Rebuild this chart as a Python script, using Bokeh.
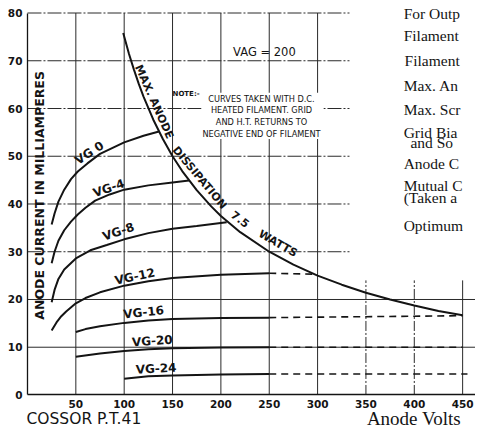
import math
from bokeh.plotting import figure
from bokeh.models import Range1d, FixedTicker
from bokeh.embed import file_html
from bokeh.resources import INLINE
from bokeh.core.properties import value

# ---------------- data ----------------
x_ticks = [50, 100, 150, 200, 250, 300, 350, 400, 450]
y_ticks = [0, 10, 20, 30, 40, 50, 60, 70, 80]

# max anode dissipation 7.5 W boundary
diss_v = [99, 105, 110, 115, 120, 130, 140, 150, 160, 175, 190, 200, 220, 250,
          275, 300, 325, 350, 375, 400, 425, 450]
diss_i = [75.8, 71.4, 68.2, 65.2, 62.5, 57.7, 53.6, 50.0, 46.9, 42.9, 39.5, 37.5,
          34.1, 30.0, 27.3, 25.0, 23.1, 21.4, 20.0, 18.75, 17.6, 16.7]

vg0_v = [25, 28, 32, 38, 45, 52, 62, 75, 100, 120, 136]
vg0_i = [35.7, 38.0, 40.5, 43.0, 45.2, 46.8, 48.5, 50.5, 52.9, 54.3, 55.2]

vg4_v = [25, 28, 32, 38, 45, 52, 60, 70, 85, 100, 125, 150, 167]
vg4_i = [27.6, 30.0, 32.3, 34.5, 36.3, 37.8, 39.2, 40.7, 42.0, 43.0, 43.9, 44.5, 44.9]

vg8_v = [25, 28, 32, 38, 50, 65, 82, 100, 125, 150, 175, 206]
vg8_i = [19.4, 22.0, 24.3, 26.3, 28.6, 30.3, 31.4, 32.6, 33.9, 34.8, 35.4, 36.2]

vg12_v = [25, 30, 35, 40, 50, 60, 75, 100, 125, 150, 200, 250]
vg12_i = [13.5, 15.2, 16.5, 17.5, 19.2, 20.3, 21.5, 22.9, 23.8, 24.5, 25.2, 25.5]

vg16_v = [50, 60, 75, 100, 125, 150, 200, 250]
vg16_i = [13.2, 13.8, 14.4, 15.1, 15.6, 15.9, 16.1, 16.2]

vg20_v = [50, 75, 100, 125, 150, 200, 250]
vg20_i = [8.0, 8.7, 9.2, 9.6, 9.8, 9.95, 10.0]

vg24_v = [100, 125, 150, 200, 250]
vg24_i = [3.4, 3.9, 4.1, 4.3, 4.4]

# dashed extensions
ext_v = [[250, 296], [250, 450], [250, 450], [250, 455]]
ext_i = [[25.5, 25.3], [16.2, 16.6], [10.0, 10.0], [4.4, 4.4]]

curve_labels = ["VG 0", "VG-4", "VG-8", "VG-12", "VG-16", "VG-20", "VG-24"]
label_v = [64, 84, 94, 111, 120, 129, 133]
label_i = [50.7, 43.3, 34.2, 24.8, 17.3, 11.3, 5.5]
label_deg = [33, 19, 19, 12, 6, 4, 3]

diss_text = ["MAX. ANODE", "DISSIPATION", "7.5", "WATTS"]
diss_text_v = [131, 178, 220, 259]
diss_text_i = [61.4, 45.5, 36.8, 31.7]
diss_text_deg = [-66, -50, -37, -30]

note_lines = ["CURVES TAKEN WITH D.C.", "HEATED FILAMENT. GRID",
              "AND H.T. RETURNS TO", "NEGATIVE END OF FILAMENT"]
note_i = [62.0, 59.6, 57.2, 54.7]

side_lines = ["For Outp", "Filament", "Filament", "Max. An", "Max. Scr",
              "Grid Bia", "and So", "Anode C", "Mutual C", "(Taken a", "Optimum"]
side_i = [79.8, 75.2, 70.1, 64.8, 59.8, 55.0, 52.8, 48.5, 43.8, 41.4, 35.4]
side_indent = [0, 0, 1, 0, 0, 0, 7, 0, 0, 0, 0]

# ---------------- figure ----------------
W, H = 475, 429
p = figure(width=W, height=H, output_backend="svg", toolbar_location=None,
           x_range=Range1d(-27.9, 463.3), y_range=Range1d(-7.23, 82.62),
           min_border_left=0, min_border_right=0, min_border_top=0,
           min_border_bottom=0)
p.outline_line_color = None
p.background_fill_color = "white"
p.border_fill_color = "white"
p.xgrid.visible = False
p.ygrid.visible = False

ink = "#141414"
grid_c = "#2a2a2a"

for ax in (p.xaxis[0], p.yaxis[0]):
    ax.axis_line_color = ink
    ax.axis_line_width = 1.3
    ax.major_tick_line_color = None
    ax.minor_tick_line_color = None
    ax.major_tick_out = 0
    ax.major_tick_in = 0
    ax.minor_tick_out = 0
    ax.major_label_text_font = "DejaVu Sans"
    ax.major_label_text_font_style = "bold"
    ax.major_label_text_font_size = "10.5px"
    ax.major_label_text_color = ink
    ax.major_label_standoff = 5
    ax.fixed_location = 0

p.xaxis.ticker = FixedTicker(ticks=x_ticks)
p.yaxis.ticker = FixedTicker(ticks=y_ticks)
p.xaxis.bounds = (0, 463)
p.yaxis.bounds = (0, 80)

# ---------------- grid ----------------
for v in x_ticks:
    top = 80 if v <= 300 else 24
    p.line([v, v], [0, top], line_color=grid_c, line_width=1,
           line_dash="solid" if v in (50, 100, 150, 200, 250, 300, 450) else "10 2 2 2")
for yv in y_ticks[1:]:
    right = 470 if yv <= 20 else 333
    p.line([0, right], [yv, yv], line_color=grid_c, line_width=1,
           line_dash="solid" if yv <= 20 else "14 2 2 2")

# white box behind the note
p.quad(left=[180], right=[306], bottom=[53.6], top=[63.3],
       fill_color="white", line_color=None)

# ---------------- curves ----------------
p.line(diss_v, diss_i, line_color=ink, line_width=2.0)
for xs, ys in [(vg0_v, vg0_i), (vg4_v, vg4_i), (vg8_v, vg8_i), (vg12_v, vg12_i),
               (vg16_v, vg16_i), (vg20_v, vg20_i), (vg24_v, vg24_i)]:
    p.line(xs, ys, line_color=ink, line_width=2.0)
p.multi_line(ext_v, ext_i, line_color=ink, line_width=1.6, line_dash="7 5")

# ---------------- texts ----------------
p.text(x=label_v, y=label_i, text=curve_labels,
       angle=[math.radians(a) for a in label_deg],
       text_font=value("DejaVu Sans"), text_font_style="bold",
       text_font_size="12px", text_align="center", text_baseline="middle",
       text_color=ink)

p.text(x=diss_text_v, y=diss_text_i, text=diss_text,
       angle=[math.radians(a) for a in diss_text_deg],
       text_font=value("DejaVu Sans"), text_font_style="bold",
       text_font_size="11px", text_align="center", text_baseline="middle",
       text_color=ink)

p.text(x=[12], y=[41.8], text=["ANODE CURRENT IN MILLIAMPERES"], angle=[math.pi / 2],
       text_font=value("DejaVu Sans"), text_font_style="bold",
       text_font_size="12.5px", text_align="center", text_baseline="middle",
       text_color=ink)

p.text(x=[245], y=[71.9], text=["VAG = 200"],
       text_font=value("DejaVu Sans"), text_font_size="11.5px",
       text_align="center", text_baseline="middle", text_color=ink)

p.text(x=[164], y=[63.0], text=["NOTE:-"],
       text_font=value("DejaVu Sans"), text_font_style="bold",
       text_font_size="7px", text_align="center", text_baseline="middle",
       text_color=ink)

p.text(x=[242] * len(note_lines), y=note_i, text=note_lines,
       text_font=value("DejaVu Sans"), text_font_size="8.2px",
       text_align="center", text_baseline="middle", text_color=ink)

p.text(x=[389 + d for d in side_indent], y=side_i, text=side_lines,
       text_font=value("Liberation Serif"), text_font_size="15.5px",
       text_align="left", text_baseline="middle", text_color=ink)

p.text(x=[-1], y=[-5.0], text=["COSSOR P.T.41"],
       text_font=value("DejaVu Sans"), text_font_size="15.5px",
       text_align="left", text_baseline="middle", text_color=ink)

p.text(x=[351], y=[-4.9], text=["Anode Volts"],
       text_font=value("Liberation Serif"), text_font_size="19px",
       text_align="left", text_baseline="middle", text_color=ink)

open("out.html", "w").write(file_html(p, INLINE))
